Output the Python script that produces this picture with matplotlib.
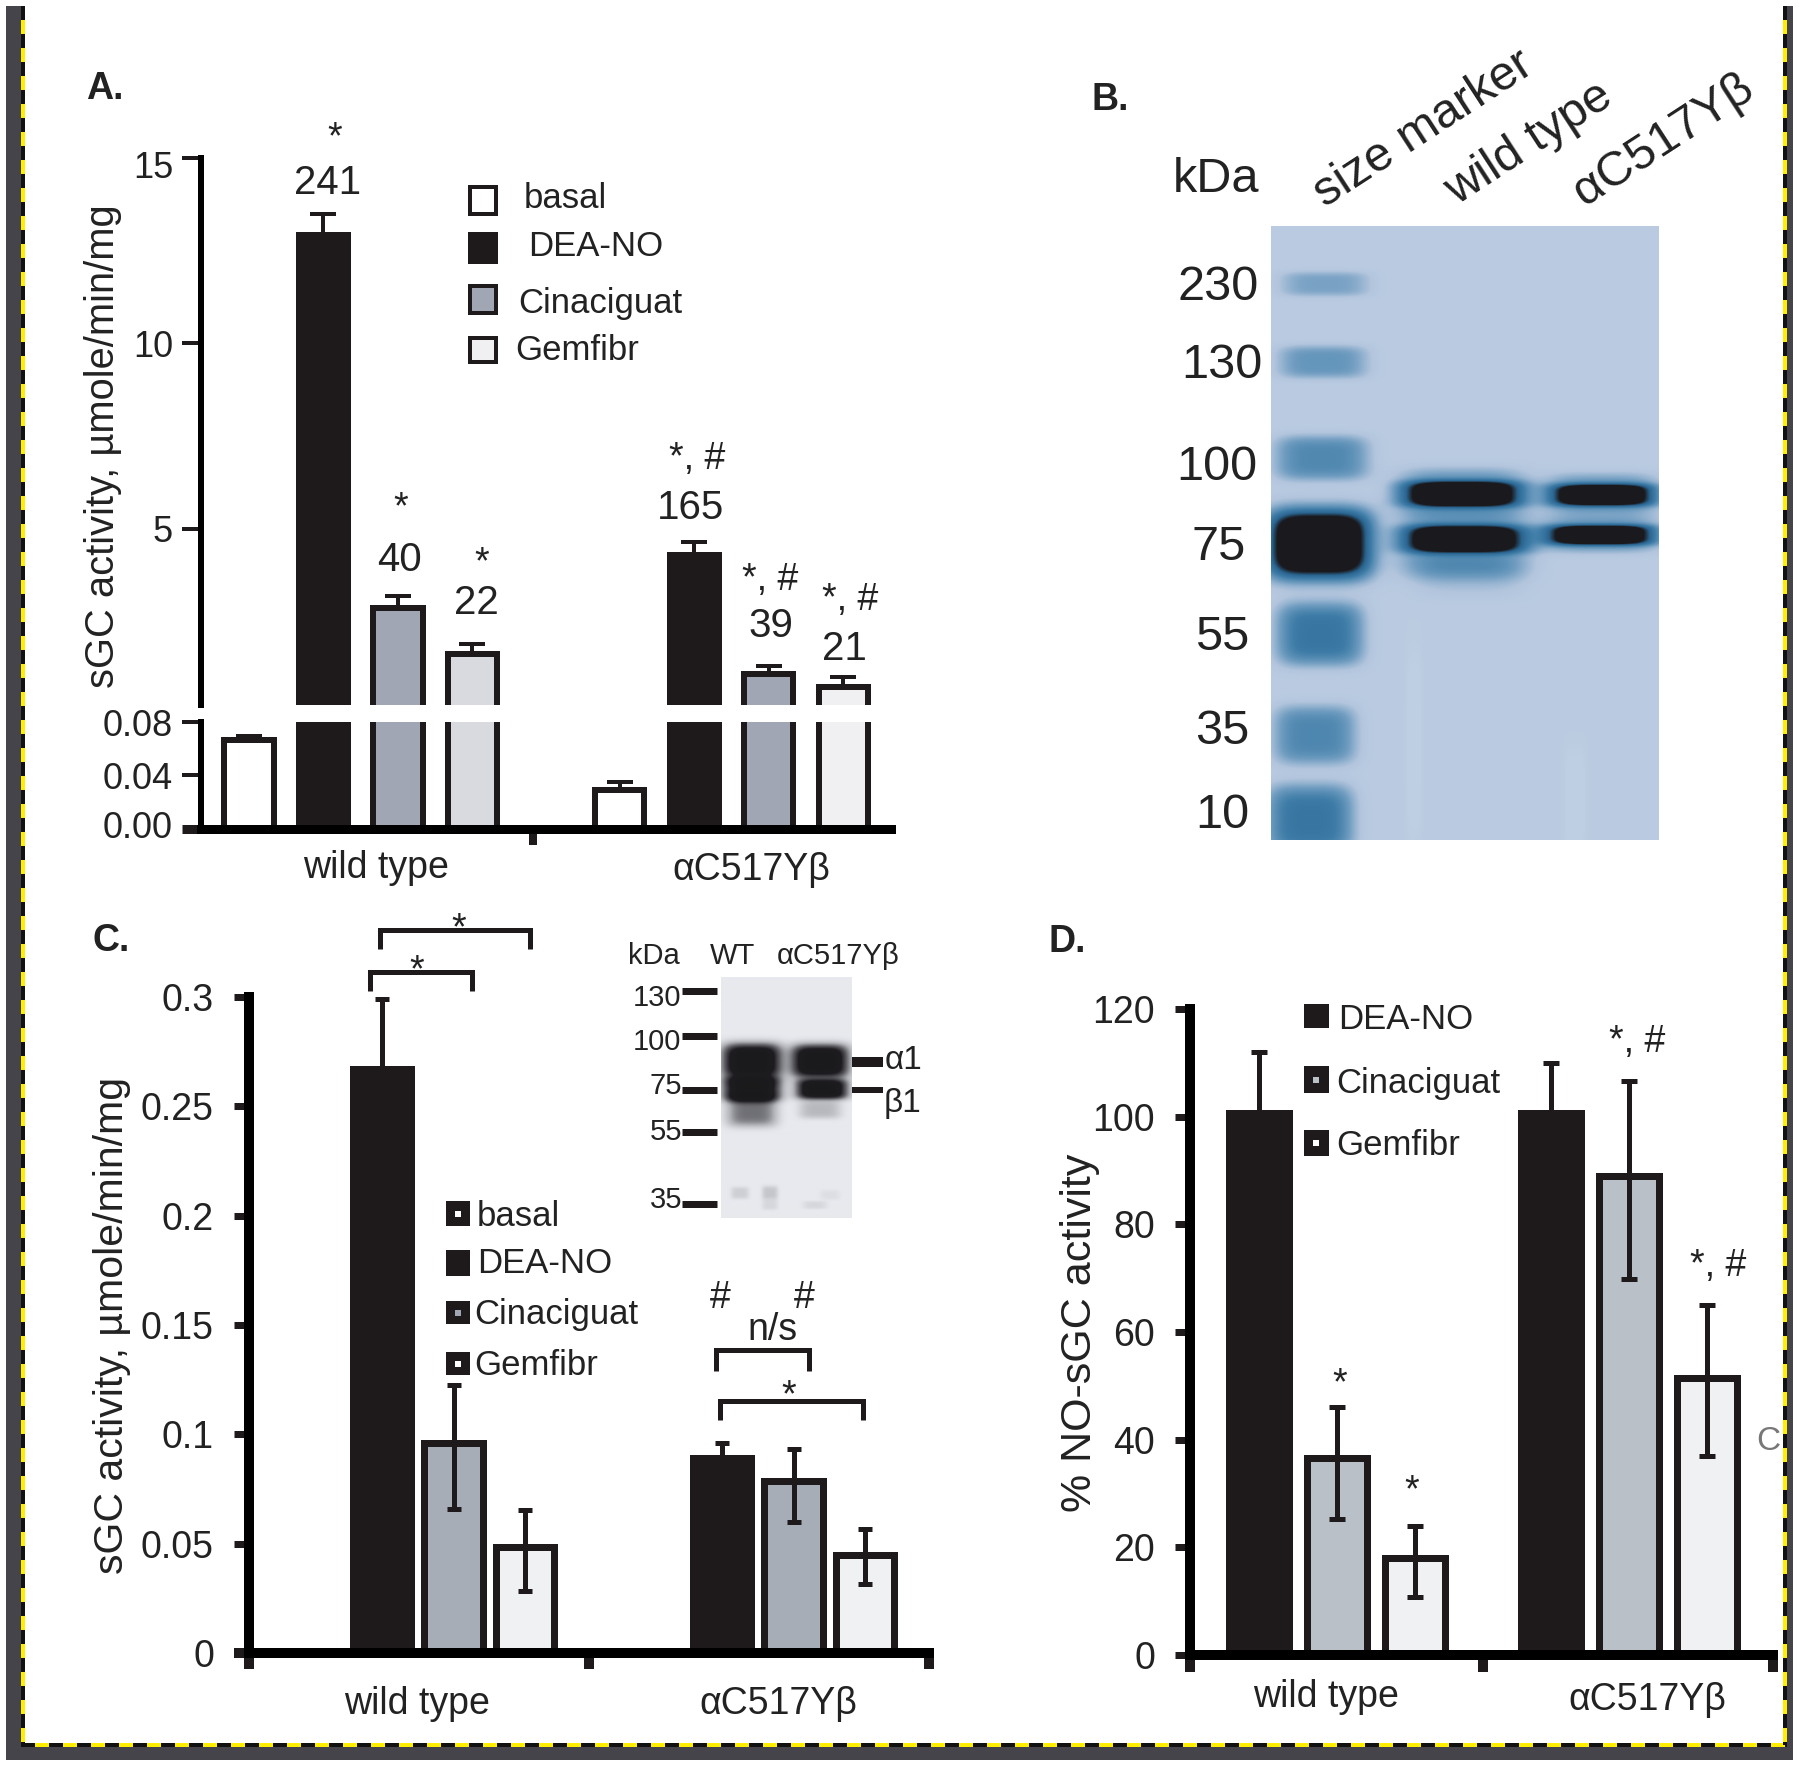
import numpy as np
import matplotlib
matplotlib.use('Agg')
import matplotlib.pyplot as plt
from matplotlib.colors import LinearSegmentedColormap
from matplotlib.patches import Rectangle
from matplotlib.transforms import ScaledTranslation

W, H = 1800, 1767
plt.rcParams['font.family'] = ['Liberation Sans', 'DejaVu Sans']
plt.rcParams['text.color'] = '#222222'
BLACK = '#1e1a1c'

groups = ['wild type', 'αC517Yβ']

# panel A (basal, DEA-NO, Cinaciguat, Gemfibr)
a_wt = [0.0668, 12.93, 2.88, 1.63]
a_wt_hi = [0.0696, 13.5, 3.2, 1.91]
a_mut = [0.029, 4.29, 1.1, 0.74]
a_mut_hi = [0.0348, 4.64, 1.3, 1.02]
a_wt_colors = ['#ffffff', BLACK, '#a0a6b4', '#d8dadf']
a_mut_colors = ['#ffffff', BLACK, '#a0a6b4', '#f0f0f2']

# panel C (DEA-NO, Cinaciguat, Gemfibr)
c_wt = [0.267, 0.0959, 0.0486]
c_wt_hi = [0.299, 0.1227, 0.0654]
c_wt_lo = [0.267, 0.0659, 0.0283]
c_mut = [0.0891, 0.0786, 0.045]
c_mut_hi = [0.0959, 0.0935, 0.0568]
c_mut_lo = [0.0891, 0.0599, 0.0316]
c_colors = [BLACK, '#a6adb6', '#eff1f3']

# panel D
d_wt = [100.7, 36.6, 18.0]
d_wt_hi = [112, 46, 24]
d_wt_lo = [100.7, 25.3, 10.8]
d_mut = [100.7, 89, 51.5]
d_mut_hi = [110, 106.7, 65]
d_mut_lo = [100.7, 69.8, 37]
d_colors = [BLACK, '#b9c0c8', '#eff1f2']

# gel bands: x, y, half width, half height, strength
gel_b_bands = [
    (1325, 284, 46, 13, 0.22), (1323, 362, 46, 17, 0.28), (1322, 458, 48, 23, 0.35),
    (1319, 544, 50, 32, 0.80), (1319, 544, 56, 42, 0.34),
    (1320, 634, 44, 32, 0.46), (1315, 735, 42, 30, 0.36), (1310, 820, 44, 36, 0.46),
    (1462, 494, 60, 13, 0.80), (1462, 494, 66, 26, 0.32),
    (1464, 539, 62, 14, 0.80), (1464, 548, 66, 32, 0.32), (1470, 580, 56, 20, 0.08),
    (1602, 495, 52, 11, 0.80), (1602, 495, 58, 22, 0.30),
    (1600, 535, 54, 10, 0.80), (1600, 535, 60, 18, 0.30),
    (1414, 745, 8, 100, -0.05), (1575, 800, 11, 55, -0.05),
]
gel_c_bands = [
    (752, 1062, 30, 18, 1.00), (752, 1090, 29, 12, 1.00), (752, 1112, 25, 15, 0.45),
    (820, 1062, 29, 17, 1.00), (822, 1090, 26, 10, 1.00), (820, 1110, 21, 9, 0.22),
    (740, 1193, 9, 6, 0.12), (770, 1193, 8, 7, 0.16), (770, 1205, 8, 5, 0.08),
    (815, 1205, 12, 4, 0.08), (830, 1195, 10, 5, 0.05),
]
gel_b_labels = ['230', '130', '100', '75', '55', '35', '10']
gel_c_labels = ['130', '100', '75', '55', '35']

fig = plt.figure(figsize=(W / 100, H / 100), dpi=100, facecolor='white')


def lw(px):
    return px * 0.72


def ax_px(x0, y0, x1, y1):
    return fig.add_axes([x0 / W, 1 - y1 / H, (x1 - x0) / W, (y1 - y0) / H])


def style_axis(ax, spine_px, tick_px, tick_len, pad, size):
    for s in ['top', 'right']:
        ax.spines[s].set_visible(False)
    ax.spines['left'].set_linewidth(lw(spine_px))
    ax.spines['bottom'].set_linewidth(lw(spine_px))
    ax.patch.set_alpha(0)
    ax.tick_params(axis='y', width=lw(tick_px), length=lw(tick_len), pad=lw(pad),
                   labelsize=size, color=BLACK, labelcolor='#222222')


def shift_label(label, dy_px):
    label.set_transform(label.get_transform() + ScaledTranslation(0, -dy_px / 100, fig.dpi_scale_trans))


def draw_bars(ax, xs, vals, hi, lo, colors, width, edge_px, stem_px, cap_px):
    ax.bar(xs, vals, width=width, color=colors, edgecolor=BLACK,
           linewidth=lw(edge_px), zorder=2)
    vals = np.array(vals)
    ax.errorbar(xs, vals, yerr=[vals - np.array(lo), np.array(hi) - vals], fmt='none',
                ecolor=BLACK, elinewidth=lw(stem_px), capsize=lw(cap_px),
                capthick=lw(stem_px), zorder=3)


# panel A, broken axis
a_xlim = (-0.644, 8.62)
a_x = [np.arange(4), np.arange(4) + 4.98]
a_up = ax_px(201, 158, 891, 705)
a_low = ax_px(201, 722, 891, 829)
for ax in [a_up, a_low]:
    draw_bars(ax, a_x[0], a_wt, a_wt_hi, a_wt, a_wt_colors, 0.66, 6, 4, 13)
    draw_bars(ax, a_x[1], a_mut, a_mut_hi, a_mut, a_mut_colors, 0.66, 6, 4, 13)
    ax.set_xlim(a_xlim)
    style_axis(ax, 6, 4, 19, 9, 26)
a_up.set_ylim(0.256, 15)
a_up.set_yticks([5, 10, 15])
a_up.set_yticklabels(['5', '10', '15'])
a_up.spines['bottom'].set_visible(False)
a_up.set_xticks([])
shift_label(a_up.get_yticklabels()[2], 7)
a_low.set_ylim(0, 0.08)
a_low.set_yticks([0, 0.04, 0.08])
a_low.set_yticklabels(['0.00', '0.04', '0.08'])
a_low.spines['bottom'].set_linewidth(lw(9))
a_low.set_xticks([3.81])
a_low.set_xticklabels([''])
a_low.tick_params(axis='x', width=lw(8), length=lw(16), color=BLACK)
a_low.yaxis.get_major_ticks()[0].tick1line.set_markeredgewidth(lw(9))
shift_label(a_low.get_yticklabels()[0], -5)

# panel C
c_x = [np.arange(3), np.arange(3) + 4.755]
ax_c = ax_px(249, 997, 929, 1653)
draw_bars(ax_c, c_x[0], c_wt, c_wt_hi, c_wt_lo, c_colors, 0.82, 7, 5, 7)
draw_bars(ax_c, c_x[1], c_mut, c_mut_hi, c_mut_lo, c_colors, 0.82, 7, 5, 7)
style_axis(ax_c, 10, 7, 15, 20, 27)
ax_c.set_xlim(-1.86, 7.65)
ax_c.set_ylim(0, 0.3)
ax_c.set_yticks([0, 0.05, 0.1, 0.15, 0.2, 0.25, 0.3])
ax_c.set_yticklabels(['0', '0.05', '0.1', '0.15', '0.2', '0.25', '0.3'])
ax_c.set_xticks([-1.86, 2.9, 7.65])
ax_c.set_xticklabels(['', '', ''])
ax_c.tick_params(axis='x', width=lw(10), length=lw(16), color=BLACK)
ax_c.yaxis.get_major_ticks()[0].tick1line.set_markeredgewidth(lw(10))

# panel D
d_x = [np.arange(3), np.arange(3) + 3.74]
ax_d = ax_px(1190, 1009, 1773, 1655)
draw_bars(ax_d, d_x[0], d_wt, d_wt_hi, d_wt_lo, d_colors, 0.77, 7, 5, 8)
draw_bars(ax_d, d_x[1], d_mut, d_mut_hi, d_mut_lo, d_colors, 0.77, 7, 5, 8)
style_axis(ax_d, 10, 7, 15, 20, 27)
ax_d.set_xlim(-0.885, 6.59)
ax_d.set_ylim(0, 120)
ax_d.set_yticks([0, 20, 40, 60, 80, 100, 120])
ax_d.set_xticks([-0.885, 2.87, 6.59])
ax_d.set_xticklabels(['', '', ''])
ax_d.tick_params(axis='x', width=lw(10), length=lw(17), color=BLACK)


# gels
def draw_gel(box, bands, colors, base):
    x0, y0, x1, y1 = box
    ax = ax_px(x0, y0, x1, y1)
    xx, yy = np.meshgrid(np.arange(x0, x1) + 0.5, np.arange(y0, y1) + 0.5)
    img = np.full(xx.shape, base, dtype=float)
    for cx, cy, hw, hh, s in bands:
        img += s * np.exp(-((xx - cx) / hw) ** 4 - ((yy - cy) / hh) ** 4)
    cmap = LinearSegmentedColormap.from_list('gel', colors)
    ax.imshow(img, cmap=cmap, vmin=0, vmax=1, aspect='auto', interpolation='bilinear')
    ax.axis('off')


draw_gel((1271, 226, 1659, 840), gel_b_bands,
         ['#c4d3e6', '#b2c5dd', '#6f9cc0', '#3f7da8', '#2a6590', '#1a1a1e', '#1a1a1e'], 0.09)
draw_gel((721, 977, 852, 1218), gel_c_bands,
         ['#e8e9ee', '#b0b2b8', '#606065', '#1e1c20', '#1a1a1c'], 0.0)

# overlay in figure pixels
over = fig.add_axes([0, 0, 1, 1], zorder=10)
over.set_xlim(0, W)
over.set_ylim(H, 0)
over.axis('off')


def txt(x, y, s, size=27, **kw):
    kw.setdefault('ha', 'center')
    kw.setdefault('va', 'center')
    over.text(x, y, s, fontsize=size, **kw)


def bracket(x0, x1, y_top, y_bot):
    over.plot([x0, x0, x1, x1], [y_bot, y_top, y_top, y_bot], color=BLACK, lw=lw(5),
              solid_joinstyle='miter', solid_capstyle='butt')


def hline(x0, x1, y, px=7):
    over.plot([x0, x1], [y, y], color=BLACK, lw=lw(px), solid_capstyle='butt')


# panel letters
for x, y, s in [(105, 89, 'A.'), (1110, 100, 'B.'), (111, 941, 'C.'), (1067, 942, 'D.')]:
    txt(x, y, s, 27, fontweight='bold')

# panel A text
txt(103, 446, 'sGC activity, µmole/min/mg', 28.7, rotation=90)
txt(376, 868, groups[0])
txt(751, 870, groups[1])
for x, y, s in [(335, 138, '*'), (401, 508, '*'), (482, 563, '*')]:
    txt(x, y, s, 27)
for x, y, s in [(328, 183, '241'), (399, 560, '40'), (476, 603, '22'),
                (691, 508, '165'), (771, 626, '39'), (844, 649, '21')]:
    txt(x, y, s, 29)
for x, y in [(697, 459), (770, 580), (850, 600)]:
    txt(x, y, '*, #', 27)

# panel A legend
for y0, y1, c in [(187, 214, 'white'), (234, 262, BLACK), (286, 313, a_wt_colors[2]),
                  (338, 362, a_mut_colors[3])]:
    over.add_patch(Rectangle((470, y0), 26, y1 - y0, facecolor=c, edgecolor=BLACK, lw=lw(4)))
for x, y, s in [(524, 198, 'basal'), (528, 247, 'DEA-NO'), (518, 303, 'Cinaciguat'),
                (515, 350, 'Gemfibr')]:
    txt(x, y, s, 25, ha='left')

# panel B text
txt(1216, 180, 'kDa', 35)
for (x, y), s in zip([(1218, 288), (1222, 366), (1217, 467), (1219, 547), (1222, 637),
                      (1222, 731), (1222, 815)], gel_b_labels):
    txt(x, y, s, 35)
for x, y, s in [(1325, 208, 'size marker'), (1457, 206, 'wild type'), (1585, 207, 'αC517Yβ')]:
    txt(x, y, s, 35, rotation=33, rotation_mode='anchor', ha='left', va='baseline')

# panel C text
txt(112, 1325, 'sGC activity, µmole/min/mg', 29.5, rotation=90)
txt(417, 1704, groups[0])
txt(778, 1704, groups[1])
bracket(380, 530, 930, 949)
bracket(370, 472, 972, 991)
bracket(716, 809, 1350, 1371)
bracket(720, 863, 1401, 1420)
for x, y, s in [(459, 929, '*'), (417, 971, '*'), (789, 1396, '*')]:
    txt(x, y, s, 27)
txt(720, 1298, '#', 27)
txt(804, 1298, '#', 27)
txt(773, 1330, 'n/s', 27)

# panel C legend
for (y0, y1), c in zip([(1201, 1226), (1250, 1276), (1301, 1324), (1352, 1375)],
                       ['white', BLACK, a_wt_colors[2], 'white']):
    over.add_patch(Rectangle((446, y0), 24, y1 - y0, facecolor=BLACK, edgecolor='none'))
    over.add_patch(Rectangle((455, (y0 + y1) / 2 - 3), 6, 6, facecolor=c, edgecolor='none'))
for x, y, s in [(477, 1216, 'basal'), (477, 1263, 'DEA-NO'), (474, 1314, 'Cinaciguat'),
                (474, 1365, 'Gemfibr')]:
    txt(x, y, s, 25, ha='left')

# inset blot labels
txt(654, 956, 'kDa', 21)
txt(732, 956, 'WT', 21)
txt(838, 956, 'αC517Yβ', 21)
for (x, y), s in zip([(657, 998), (657, 1042), (666, 1086), (666, 1132), (666, 1200)], gel_c_labels):
    txt(x, y, s, 21)
for y in [991, 1036, 1090, 1132, 1204]:
    hline(682, 717, y)
hline(852, 883, 1062, 10)
hline(852, 883, 1090, 6)
txt(903, 1060, 'α1', 24)
txt(902, 1103, 'β1', 24)

# panel D text
txt(1080, 1333, '% NO-sGC activity', 31, rotation=90)
txt(1326, 1697, groups[0])
txt(1647, 1700, groups[1])
txt(1340, 1384, '*', 27)
txt(1412, 1491, '*', 27)
txt(1637, 1042, '*, #', 27)
txt(1718, 1266, '*, #', 27)
for (y0, y1), c in zip([(1004, 1028), (1066, 1093), (1130, 1156)], [BLACK, d_colors[1], 'white']):
    over.add_patch(Rectangle((1304, y0), 25, y1 - y0, facecolor=BLACK, edgecolor='none'))
    over.add_patch(Rectangle((1313, (y0 + y1) / 2 - 3), 6, 6, facecolor=c, edgecolor='none'))
for x, y, s in [(1338, 1019, 'DEA-NO'), (1336, 1083, 'Cinaciguat'), (1336, 1145, 'Gemfibr')]:
    txt(x, y, s, 25, ha='left')
txt(1756, 1441, 'C', 24, ha='left', color='#777777')

# screenshot frame: dark canvas band and dashed selection line
for x, y, w, h in [(6, 6, 15, 1754), (1787, 6, 6, 1754), (6, 1747, 1787, 13)]:
    over.add_patch(Rectangle((x, y), w, h, facecolor='#44444a', edgecolor='none', zorder=5))
for xs, ys in [([23, 23], [6, 1745]), ([1785, 1785], [6, 1745]), ([21, 1787], [1745, 1745])]:
    over.plot(xs, ys, color='#ffee00', lw=lw(4), zorder=6, solid_capstyle='butt')
    over.plot(xs, ys, color='#111111', lw=lw(4), zorder=7, linestyle=(0, (3.5, 3.5)),
              dash_capstyle='butt')

fig.savefig('out.png', dpi=100, facecolor='white')
